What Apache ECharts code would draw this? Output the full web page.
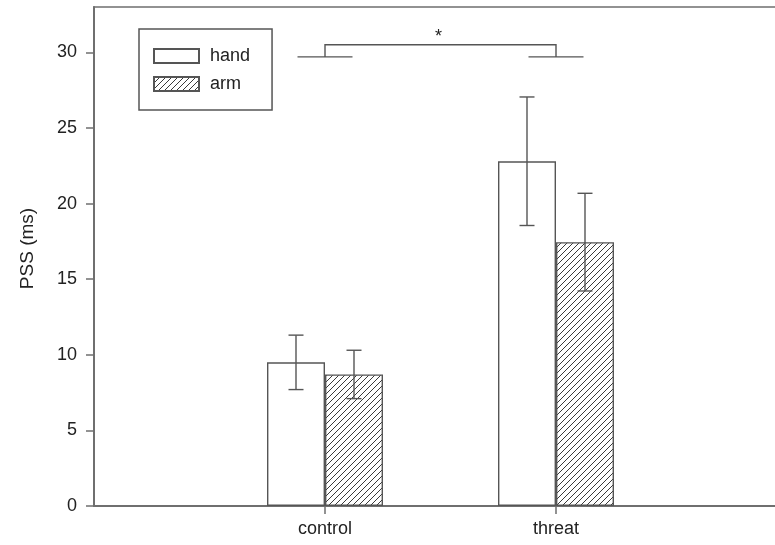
<!DOCTYPE html>
<html>
<head>
<meta charset="utf-8">
<script src="https://cdn.jsdelivr.net/npm/echarts@6/dist/echarts.min.js"></script>
<style>
  html, body { margin: 0; padding: 0; background: #ffffff; }
  #chart { width: 775px; height: 545px; }
</style>
</head>
<body>
<div id="chart"></div>
<script>
// Category slots: empty slots at both ends pad the axis out to the frame edges
const categories = ['', 'control', 'threat', ''];

// Mean PSS (ms) and standard error per condition
const handMean = [null, 9.5, 22.8, null];
const handErr  = [null, 1.8, 4.25, null];
const armMean  = [null, 8.7, 17.45, null];
const armErr   = [null, 1.6, 3.23, null];

// Value axis ticks
const yTicks = [0, 5, 10, 15, 20, 25, 30];

// Significance bracket between control and threat: [left slot, right slot], [foot level, top level]
const sigPair = [1, 2];
const sigLevels = [29.7, 30.5];
const sigStarLevel = 31.0;

const FONT = '"Liberation Sans", Arial, Helvetica, sans-serif';
const AXIS = '#6f6f6f';
const INK = '#555555';

// Diagonal hatch tile used to fill the "arm" bars
function hatchTile() {
  const s = 6;
  const c = document.createElement('canvas');
  c.width = s; c.height = s;
  const g = c.getContext('2d');
  g.fillStyle = '#ffffff';
  g.fillRect(0, 0, s, s);
  g.strokeStyle = '#3a3a3a';
  g.lineWidth = 1;
  g.beginPath();
  g.moveTo(0, s); g.lineTo(s, 0);
  g.moveTo(-1, 1); g.lineTo(1, -1);
  g.moveTo(s - 1, s + 1); g.lineTo(s + 1, s - 1);
  g.stroke();
  return c;
}

function toErrData(mean, err) {
  const out = [];
  mean.forEach((m, i) => { if (m != null) out.push([i, m - err[i], m + err[i]]); });
  return out;
}

// Error bar with caps, shifted sideways to sit over its bar
function errorSeries(mean, err, offset) {
  return {
    type: 'custom',
    silent: true,
    z: 5,
    encode: { x: 0, y: [1, 2] },
    data: toErrData(mean, err),
    renderItem(params, api) {
      const lo = api.coord([api.value(0), api.value(1)]);
      const hi = api.coord([api.value(0), api.value(2)]);
      const x = lo[0] + offset;
      const hw = 7.5;
      const st = { stroke: INK, lineWidth: 1.4 };
      return {
        type: 'group',
        children: [
          { type: 'line', shape: { x1: x, y1: hi[1], x2: x, y2: lo[1] }, style: st },
          { type: 'line', shape: { x1: x - hw, y1: hi[1], x2: x + hw, y2: hi[1] }, style: st },
          { type: 'line', shape: { x1: x - hw, y1: lo[1], x2: x + hw, y2: lo[1] }, style: st }
        ]
      };
    }
  };
}

const bracketSeries = {
  type: 'custom',
  silent: true,
  z: 5,
  encode: { x: [0, 1], y: [2, 3] },
  data: [[sigPair[0], sigPair[1], sigLevels[0], sigLevels[1], sigStarLevel]],
  renderItem(params, api) {
    const a = api.coord([api.value(0), api.value(2)]);
    const b = api.coord([api.value(1), api.value(2)]);
    const top = api.coord([api.value(0), api.value(3)])[1];
    const star = api.coord([api.value(0), api.value(4)])[1];
    const foot = 27.5;
    const st = { stroke: INK, lineWidth: 1.4 };
    return {
      type: 'group',
      children: [
        { type: 'line', shape: { x1: a[0] - foot, y1: a[1], x2: a[0] + foot, y2: a[1] }, style: st },
        { type: 'line', shape: { x1: b[0] - foot, y1: b[1], x2: b[0] + foot, y2: b[1] }, style: st },
        { type: 'polyline', shape: { points: [[a[0], a[1]], [a[0], top], [b[0], top], [b[0], b[1]]] }, style: Object.assign({ fill: null }, st) },
        { type: 'text', x: (a[0] + b[0]) / 2 - 2, y: star,
          style: { text: '*', fill: '#222', font: '18px ' + FONT, align: 'center', verticalAlign: 'middle' } }
      ]
    };
  }
};

const chart = echarts.init(document.getElementById('chart'), null, { renderer: 'canvas' });

chart.setOption({
  backgroundColor: '#ffffff',
  animation: false,
  textStyle: { fontFamily: FONT },
  grid: {
    left: 94, top: 7, width: 693, height: 499,
    outerBoundsMode: 'none',
    containLabel: false,
    show: true, borderColor: AXIS, borderWidth: 1.5, backgroundColor: 'transparent'
  },
  legend: {
    data: ['hand', 'arm'],
    orient: 'vertical',
    left: 139, top: 29,
    icon: 'rect',
    itemWidth: 45, itemHeight: 14, itemGap: 10,
    padding: [18, 22, 17, 14],
    borderColor: INK, borderWidth: 1.5,
    textStyle: { fontSize: 18, color: '#222', fontFamily: FONT, padding: [0, 0, 0, 6] }
  },
  xAxis: {
    type: 'category',
    data: categories,
    boundaryGap: false,
    axisLine: { lineStyle: { color: AXIS, width: 2 } },
    axisTick: { show: true, interval: (i, v) => v !== '', length: 8, lineStyle: { color: AXIS, width: 1.5 } },
    axisLabel: { interval: 0, fontSize: 18, color: '#222', margin: 14, fontFamily: FONT },
    splitLine: { show: false }
  },
  yAxis: {
    type: 'value',
    min: 0, max: 33, interval: 5,
    name: 'PSS (ms)',
    nameLocation: 'middle',
    nameGap: 57,
    nameTextStyle: { fontSize: 19, color: '#222', fontFamily: FONT, padding: [0, 0, 0, 16] },
    axisLine: { show: true, lineStyle: { color: AXIS, width: 2 } },
    axisTick: { show: true, length: 8, customValues: yTicks, lineStyle: { color: AXIS, width: 1.5 } },
    axisLabel: { fontSize: 18, color: '#222', margin: 17, customValues: yTicks, fontFamily: FONT },
    splitLine: { show: false }
  },
  series: [
    {
      name: 'hand', type: 'bar', data: handMean,
      barWidth: 58, barGap: '0%',
      itemStyle: { color: '#ffffff', borderColor: INK, borderWidth: 1.4 }
    },
    {
      name: 'arm', type: 'bar', data: armMean,
      barWidth: 58, barGap: '0%',
      itemStyle: { color: { image: hatchTile(), repeat: 'repeat' }, borderColor: INK, borderWidth: 1.4 }
    },
    errorSeries(handMean, handErr, -29),
    errorSeries(armMean, armErr, 29),
    bracketSeries
  ]
});
</script>
</body>
</html>
